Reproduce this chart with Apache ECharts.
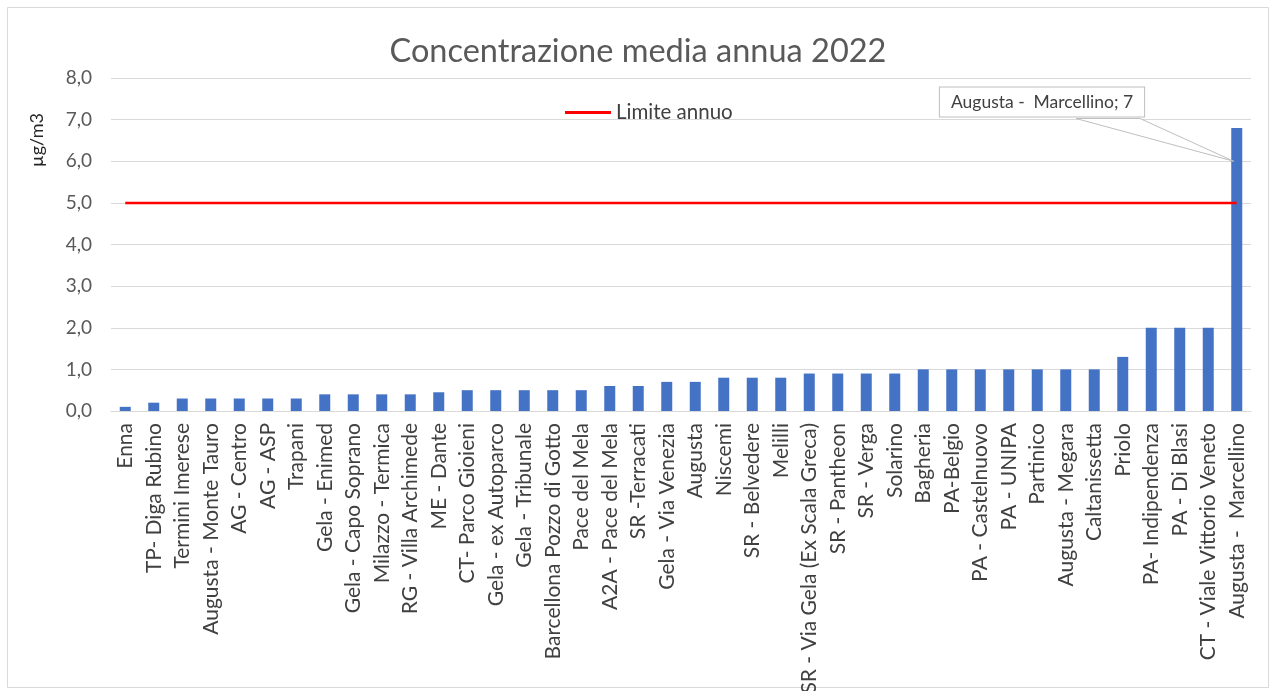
<!DOCTYPE html>
<html>
<head>
<meta charset="utf-8">
<script src="https://cdn.jsdelivr.net/npm/echarts@6/dist/echarts.min.js"></script>
<style>
  html, body { margin: 0; padding: 0; background: #ffffff; }
  #chart { width: 1276px; height: 691px; }
</style>
</head>
<body>
<div id="chart"></div>
<script>
// Monitoring stations, sorted by annual mean
const stations = [
  'Enna', 'TP- Diga Rubino', 'Termini Imerese', 'Augusta - Monte Tauro', 'AG - Centro',
  'AG - ASP', 'Trapani', 'Gela - Enimed', 'Gela - Capo Soprano', 'Milazzo - Termica',
  'RG - Villa Archimede', 'ME - Dante', 'CT- Parco Gioieni', 'Gela - ex Autoparco', 'Gela - Tribunale',
  'Barcellona Pozzo di Gotto', 'Pace del Mela', 'A2A - Pace del Mela', 'SR -Terracati', 'Gela - Via Venezia',
  'Augusta', 'Niscemi', 'SR - Belvedere', 'Melilli', 'SR - Via Gela (Ex Scala Greca)',
  'SR - Pantheon', 'SR - Verga', 'Solarino', 'Bagheria', 'PA-Belgio',
  'PA - Castelnuovo', 'PA - UNIPA', 'Partinico', 'Augusta - Megara', 'Caltanissetta',
  'Priolo', 'PA- Indipendenza', 'PA - Di Blasi', 'CT - Viale Vittorio Veneto', 'Augusta -  Marcellino'
];

// Annual mean concentration (µg/m3)
const annualMean = [
  0.1, 0.2, 0.3, 0.3, 0.3,
  0.3, 0.3, 0.4, 0.4, 0.4,
  0.4, 0.45, 0.5, 0.5, 0.5,
  0.5, 0.5, 0.6, 0.6, 0.7,
  0.7, 0.8, 0.8, 0.8, 0.9,
  0.9, 0.9, 0.9, 1.0, 1.0,
  1.0, 1.0, 1.0, 1.0, 1.0,
  1.3, 2.0, 2.0, 2.0, 6.8
];

// Annual limit value
const annualLimit = 5.0;
const limitName = 'Limite annuo';

// Value axis ticks
const yMin = 0, yMax = 8, yStep = 1;

// Station whose value gets a callout
const calloutIndex = stations.length - 1;

const fmtComma = v => v.toFixed(1).replace('.', ',');
const FONT = 'Lato, "Open Sans", sans-serif';

const chart = echarts.init(document.getElementById('chart'), null, { renderer: 'canvas' });

const barData = annualMean.map((v, i) => {
  if (i !== calloutIndex) return v;
  return {
    value: v,
    label: {
      show: true,
      formatter: p => p.name + '; ' + Math.round(p.value),
      color: '#404040',
      fontFamily: FONT,
      fontSize: 17.5,
      backgroundColor: '#ffffff',
      borderColor: '#bfbfbf',
      borderWidth: 1,
      padding: [6, 11, 5, 11],
      align: 'center',
      verticalAlign: 'middle'
    }
  };
});

chart.setOption({
  animation: false,
  backgroundColor: '#ffffff',
  title: {
    text: 'Concentrazione media annua 2022',
    left: 'center',
    top: 30,
    textStyle: { fontFamily: FONT, fontSize: 32.5, fontWeight: 'normal', color: '#595959' }
  },
  legend: {
    data: [{ name: limitName, icon: 'rect' }],
    left: 560,
    top: 97,
    itemWidth: 46,
    itemHeight: 3,
    itemGap: 6,
    textStyle: { fontFamily: FONT, fontSize: 20.5, color: '#404040' }
  },
  grid: {
    left: 111, right: 25, top: 78, bottom: 280,
    containLabel: false,
    outerBoundsMode: 'none'
  },
  xAxis: {
    type: 'category',
    data: stations,
    boundaryGap: true,
    axisLine: { lineStyle: { color: '#d9d9d9' } },
    axisTick: { show: false },
    axisLabel: {
      interval: 0,
      rotate: 90,
      margin: 12,
      fontFamily: FONT,
      fontSize: 21,
      color: '#404040'
    }
  },
  yAxis: {
    type: 'value',
    min: yMin,
    max: yMax,
    interval: yStep,
    axisLine: { show: false },
    axisTick: { show: false },
    splitLine: { lineStyle: { color: '#d9d9d9' } },
    axisLabel: {
      formatter: v => fmtComma(v),
      fontFamily: FONT,
      fontSize: 19,
      color: '#595959',
      margin: 19
    }
  },
  series: [
    {
      type: 'bar',
      name: 'Concentrazione',
      data: barData,
      barWidth: 11,
      itemStyle: { color: '#4472c4' },
      labelLayout: { x: 1042, y: 102 },
      z: 2
    },
    {
      type: 'line',
      name: limitName,
      data: stations.map(() => annualLimit),
      symbol: 'none',
      lineStyle: { color: '#ff0000', width: 2.5 },
      itemStyle: { color: '#ff0000' },
      z: 3
    }
  ],
  graphic: [
    {
      type: 'rect',
      shape: { x: 7.5, y: 7.5, width: 1261, height: 680 },
      style: { fill: 'none', stroke: '#d9d9d9', lineWidth: 1 },
      silent: true
    },
    {
      type: 'text',
      x: 37,
      y: 140,
      rotation: Math.PI / 2,
      style: {
        text: 'µg/m3',
        fontFamily: FONT,
        fontSize: 18,
        fill: '#262626',
        align: 'center',
        verticalAlign: 'middle'
      },
      silent: true
    }
  ]
});

// Callout pointer from the label box down to the bar
const tip = chart.convertToPixel({ gridIndex: 0 }, [calloutIndex, annualMean[calloutIndex] - 0.8]);
chart.setOption({
  graphic: [
    {
      type: 'polygon',
      id: 'calloutPointer',
      shape: { points: [[1076, 118.5], [tip[0] - 3, tip[1]], [1140, 118.5]] },
      style: { fill: '#ffffff', stroke: '#bfbfbf', lineWidth: 1 },
      z: 10,
      silent: true
    }
  ]
});
</script>
</body>
</html>
